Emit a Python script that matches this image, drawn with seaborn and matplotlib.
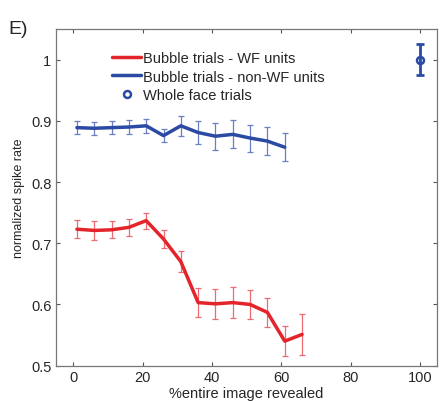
import numpy as np
import pandas as pd
import matplotlib
matplotlib.use("Agg")
import matplotlib.pyplot as plt
from matplotlib.ticker import FuncFormatter
import seaborn as sns

# percent of image revealed
x_wf = [1, 6, 11, 16, 21, 26, 31, 36, 41, 46, 51, 56, 61, 66]
y_wf = [0.723, 0.721, 0.722, 0.726, 0.737, 0.707, 0.670, 0.603, 0.601, 0.603, 0.600, 0.587, 0.540, 0.551]
e_wf = [0.015, 0.015, 0.014, 0.014, 0.013, 0.014, 0.017, 0.024, 0.024, 0.025, 0.024, 0.024, 0.024, 0.034]

x_nwf = [1, 6, 11, 16, 21, 26, 31, 36, 41, 46, 51, 56, 61]
y_nwf = [0.889, 0.888, 0.889, 0.890, 0.892, 0.876, 0.892, 0.881, 0.875, 0.878, 0.872, 0.867, 0.857]
e_nwf = [0.011, 0.011, 0.011, 0.011, 0.011, 0.011, 0.016, 0.019, 0.022, 0.023, 0.022, 0.023, 0.023]

x_whole = [100]
y_whole = [1.0]
e_whole = [0.025]

red = '#e3242b'
blue = '#2b4aa3'

sns.set_style('ticks')
plt.rcParams['font.family'] = ['Liberation Sans', 'DejaVu Sans']

fig = plt.figure(figsize=(4.42, 4.02), dpi=100)
ax = fig.add_axes([0.127, 0.088, 0.862, 0.837])

df_wf = pd.DataFrame({'x': x_wf, 'y': y_wf})
df_nwf = pd.DataFrame({'x': x_nwf, 'y': y_nwf})

ax.errorbar(x_wf, y_wf, yerr=e_wf, fmt='none', ecolor='#ec6b70', elinewidth=0.9, capsize=2.5, capthick=0.9)
ax.errorbar(x_nwf, y_nwf, yerr=e_nwf, fmt='none', ecolor='#6b7fc0', elinewidth=0.9, capsize=2.5, capthick=0.9)
sns.lineplot(data=df_wf, x='x', y='y', ax=ax, color=red, linewidth=2.5, label='Bubble trials - WF units')
sns.lineplot(data=df_nwf, x='x', y='y', ax=ax, color=blue, linewidth=2.5, label='Bubble trials - non-WF units')
ax.errorbar(x_whole, y_whole, yerr=e_whole, fmt='none', ecolor=blue, elinewidth=2, capsize=3, capthick=2)
ax.plot(x_whole, y_whole, 'o', mfc='none', mec=blue, mew=1.8, ms=5, label='Whole face trials')

ax.set_xlim(-5, 105)
ax.set_ylim(0.5, 1.05)
ax.set_xticks([0, 20, 40, 60, 80, 100])
ax.set_yticks([0.5, 0.6, 0.7, 0.8, 0.9, 1.0])
ax.yaxis.set_major_formatter(FuncFormatter(lambda v, p: '%g' % v))
ax.tick_params(direction='in', top=True, right=True, labelsize=10.5, length=3, color='#555555')
for s in ax.spines.values():
    s.set_color('#777777')
    s.set_linewidth(0.9)

ax.set_xlabel('%entire image revealed', fontsize=10.5, labelpad=1)
ax.set_ylabel('normalized spike rate', fontsize=9, labelpad=4)

leg = ax.legend(loc='upper left', bbox_to_anchor=(0.12, 0.965), frameon=False, fontsize=10.5,
                handlelength=2.0, handletextpad=0.1, labelspacing=0.3, borderpad=0.2)

fig.text(0.02, 0.915, 'E)', fontsize=14)

plt.savefig('out.png', dpi=100)
